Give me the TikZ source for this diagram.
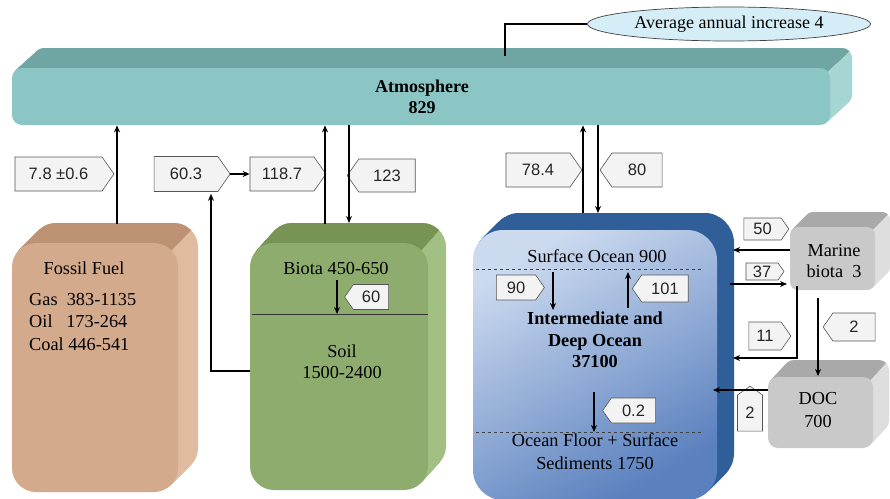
\documentclass[tikz,border=0pt]{standalone}
\usepackage{fontspec}
\setmainfont{Liberation Serif}
\newfontfamily\tagfont{Liberation Sans}
\usetikzlibrary{shapes.symbols,shapes.geometric,arrows.meta}

\definecolor{atmoFront}{HTML}{8CC6C4}
\definecolor{atmoTop}{HTML}{6FA6A4}
\definecolor{atmoSide}{HTML}{A6D6D4}
\definecolor{fossFront}{HTML}{D4AA8C}
\definecolor{fossTop}{HTML}{BC9273}
\definecolor{fossSide}{HTML}{E0BBA0}
\definecolor{landFront}{HTML}{8EAC6E}
\definecolor{landTop}{HTML}{779455}
\definecolor{landSide}{HTML}{A2BF84}
\definecolor{seaDark}{HTML}{2F5E98}
\definecolor{seaLight}{HTML}{CCDAEF}
\definecolor{seaMid}{HTML}{5A80BE}
\definecolor{greyFront}{HTML}{C9C9C9}
\definecolor{greyTop}{HTML}{A9A9A9}
\definecolor{greySide}{HTML}{DEDEDE}
\definecolor{tagFill}{HTML}{F3F3F3}
\definecolor{tagLine}{HTML}{555555}
\definecolor{ovalFill}{HTML}{D5EDF6}

% extruded rounded box: x0 y0 x1 y1 (front face), dx dy (depth), radius
% colours come from boxtop / boxside
\newcommand\extrudedbox[7]{%
  \foreach \k in {20,19,...,1}{%
    \fill[boxside, rounded corners=#7]
      ({#1+#5*\k/20},{#2-#6*\k/20}) rectangle ({#3+#5*\k/20},{#4-#6*\k/20});
  }%
  \begin{scope}
    \clip ({#1-40},{#2+8}) -- ({#3-8},{#2+8}) -- ({#3-8+#5*4},{#2+8-#6*4})
      -- ({#1-40},{#2+8-#6*4}) -- cycle;
    \foreach \k in {20,19,...,1}{%
      \fill[boxtop, rounded corners=#7]
        ({#1+#5*\k/20},{#2-#6*\k/20}) rectangle ({#3+#5*\k/20},{#4-#6*\k/20});
    }%
  \end{scope}
}

\begin{document}
\begin{tikzpicture}[x=1pt,y=-1pt,
  lbl/.style={font=\fontsize{18.3}{21}\selectfont, align=center, inner sep=0pt},
  face/.style={inner sep=0pt, anchor=north west},
  flow/.style={line width=1.5pt, -{Stealth[length=7pt,width=6pt]}},
  tagbase/.style={signal, draw=tagLine, fill=tagFill, line width=0.6pt,
    font=\tagfont\fontsize{16.5}{18}\selectfont, text=black!85,
    inner sep=1pt, signal pointer angle=110},
  tagR/.style={tagbase, signal to=east},
  tagL/.style={tagbase, signal to=west},
  tagU/.style={tagbase, signal to=north},
]
\fill[white] (0,0) rectangle (890,498);
\useasboundingbox (0,0) rectangle (890,498);

% ---------- atmosphere bar ----------
\colorlet{boxtop}{atmoTop}\colorlet{boxside}{atmoSide}
\extrudedbox{12}{68}{830}{125}{22}{20}{10}
\fill[atmoFront, rounded corners=10] (12,68) rectangle (830,125);
\node[face, minimum width=818pt, minimum height=57pt] (atmo) at (12,68) {};
\node[lbl, font=\bfseries\fontsize{18}{20.5}\selectfont] (atmoT) at (422,97) {Atmosphere\\829};

% ---------- average increase oval ----------
\node[ellipse, draw=black!75, fill=ovalFill, line width=0.7pt,
  minimum width=283pt, minimum height=34pt, inner sep=0pt,
  font=\fontsize{18}{20}\selectfont] (avg) at (729,24) {Average annual increase 4};
\coordinate (avgBend) at (505,24);
\coordinate (avgFoot) at (505,56);
\draw[line width=1.2pt] (avg.west) -- (avgBend) -- (avgFoot);

% ---------- fossil fuel ----------
\colorlet{boxtop}{fossTop}\colorlet{boxside}{fossSide}
\extrudedbox{12}{243}{178}{492}{20}{20}{24}
\fill[fossFront, rounded corners=24] (12,243) rectangle (178,492);
\node[face, minimum width=166pt, minimum height=249pt] (fossil) at (12,243) {};
\node[lbl] (fossT) at (84,268) {Fossil Fuel};
\node[lbl, align=left, anchor=north west, font=\fontsize{18.3}{22.5}\selectfont]
  (fossL) at (29,293) {Gas\ \ 383-1135\\Oil\ \ \ 173-264\\Coal 446-541};

% ---------- biota and soil ----------
\colorlet{boxtop}{landTop}\colorlet{boxside}{landSide}
\extrudedbox{250}{243}{428}{490}{18}{20}{24}
\fill[landFront, rounded corners=24] (250,243) rectangle (428,490);
\node[face, minimum width=178pt, minimum height=247pt] (land) at (250,243) {};
\node[lbl] (biotaT) at (336,268) {Biota 450-650};
\coordinate (divL) at (252,314);
\coordinate (divR) at (428,314);
\draw[line width=0.9pt, black!80] (divL) -- (divR);
\node[lbl, font=\fontsize{18.3}{21}\selectfont] (soilT) at (342,362) {Soil\\1500-2400};

% ---------- ocean ----------
\colorlet{boxtop}{seaDark}\colorlet{boxside}{seaDark}
\extrudedbox{473}{230}{717}{500}{17}{17}{30}
\shade[rounded corners=30, top color=seaLight, bottom color=seaMid, shading angle=30]
  (473,230) rectangle (717,500);
\node[face, minimum width=244pt, minimum height=270pt] (ocean) at (473,230) {};
\node[lbl] (surfT) at (597,256) {Surface Ocean 900};
\coordinate (dashAL) at (476,269);
\coordinate (dashAR) at (703,269);
\coordinate (dashBL) at (476,432);
\coordinate (dashBR) at (703,432);
\draw[dashed, line width=0.8pt, black!75] (dashAL) -- (dashAR);
\draw[dashed, line width=0.8pt, black!75] (dashBL) -- (dashBR);
\node[lbl, font=\bfseries\fontsize{18.3}{21.5}\selectfont] (deepT) at (595,340)
  {Intermediate and\\Deep Ocean\\37100};
\node[lbl, font=\fontsize{18.3}{23}\selectfont] (floorT) at (595,452)
  {Ocean Floor + Surface\\Sediments 1750};

% ---------- marine biota and DOC ----------
\colorlet{boxtop}{greyTop}\colorlet{boxside}{greySide}
\extrudedbox{790}{227}{875}{290}{15}{15}{8}
\fill[greyFront, rounded corners=8] (790,227) rectangle (875,290);
\node[face, minimum width=85pt, minimum height=63pt] (marine) at (790,227) {};
\node[lbl] (marineT) at (834,261) {Marine\\biota\ \ 3};
\extrudedbox{768}{377}{873}{448}{16}{17}{10}
\fill[greyFront, rounded corners=10] (768,377) rectangle (873,448);
\node[face, minimum width=105pt, minimum height=71pt] (doc) at (768,377) {};
\node[lbl, font=\fontsize{18.3}{23}\selectfont] (docT) at (818,410) {DOC\\700};

% ---------- flux labels ----------
\node[tagR, minimum width=99pt, minimum height=34pt] (tFoss) at (58.5,174) {7.8 ±0.6};
\node[tagR, minimum width=76pt, minimum height=35pt] (t603) at (186,174) {60.3};
\node[tagR, minimum width=76pt, minimum height=34pt] (t1187) at (282,174) {118.7};
\node[tagL, minimum width=68pt, minimum height=33pt] (t123) at (387,175.5) {123};
\node[tagL, minimum width=44pt, minimum height=25pt] (t60) at (371,297) {60};
\node[tagR, minimum width=76pt, minimum height=34pt] (t784) at (538,170) {78.4};
\node[tagL, minimum width=62pt, minimum height=34pt] (t80) at (637,170) {80};
\node[tagR, minimum width=48pt, minimum height=25pt] (t90) at (516,287.5) {90};
\node[tagL, minimum width=56pt, minimum height=27pt] (t101) at (665,288.5) {101};
\node[tagL, minimum width=53pt, minimum height=25pt] (t02) at (633.5,410.5) {0.2};
\node[tagR, minimum width=45pt, minimum height=22pt] (t50) at (762.5,229) {50};
\node[tagR, minimum width=38pt, minimum height=17pt] (t37) at (762,271.5) {37};
\node[tagR, minimum width=42pt, minimum height=28pt] (t11) at (765,336) {11};
\node[tagL, minimum width=52pt, minimum height=28pt] (t2a) at (854,327) {2};
\node[tagU, minimum width=25pt, minimum height=40pt] (t2b) at (750,413) {2};

% ---------- flux arrows ----------
\coordinate (fossOut) at (117,224);
\draw[flow] (fossOut) -- (fossOut |- atmo.south);

\coordinate (soilOut) at (250,371);
\coordinate (soilBend) at (211,371);
\draw[flow] (soilOut) -- (soilBend) -- ([yshift=-2pt]soilBend |- t603.south);
\draw[flow] (t603.east) -- (t1187.west);

\coordinate (landUp) at (325,224);
\coordinate (landDown) at (349,223);
\draw[flow] (landUp) -- (landUp |- atmo.south);
\draw[flow] (landDown |- atmo.south) -- (landDown);

\coordinate (litterTop) at (337,280);
\draw[flow] (litterTop) -- (litterTop |- divL);

\coordinate (seaUp) at (583,213);
\coordinate (seaDown) at (598,213);
\draw[flow, line width=1.9pt] (seaUp) -- (seaUp |- atmo.south);
\draw[flow] (seaDown |- atmo.south) -- (seaDown);

\coordinate (mixDownTop) at (553,272);
\coordinate (mixDownEnd) at (553,310);
\draw[flow] (mixDownTop) -- (mixDownEnd);
\coordinate (mixUpBot) at (628,308);
\coordinate (mixUpEnd) at (628,272);
\draw[flow] (mixUpBot) -- (mixUpEnd);
\coordinate (sinkTop) at (594,392);
\draw[flow] (sinkTop) -- (sinkTop |- dashBL);

\coordinate (seaEdge) at (733,250);
\draw[flow] (marine.west |- seaEdge) -- (seaEdge);
\coordinate (uptakeStart) at (730,284);
\draw[flow] (uptakeStart) -- ([xshift=-3pt]marine.west |- uptakeStart);
\coordinate (detTop) at (797,286);
\coordinate (detBend) at (797,358);
\draw[flow] (detTop) -- (detBend) -- (seaEdge |- detBend);
\coordinate (docIn) at (818,298);
\draw[flow] (docIn) -- ([yshift=1pt]docIn |- doc.north);
\coordinate (docOut) at (713,390);
\draw[flow] (doc.west |- docOut) -- (docOut);

\end{tikzpicture}
\end{document}
